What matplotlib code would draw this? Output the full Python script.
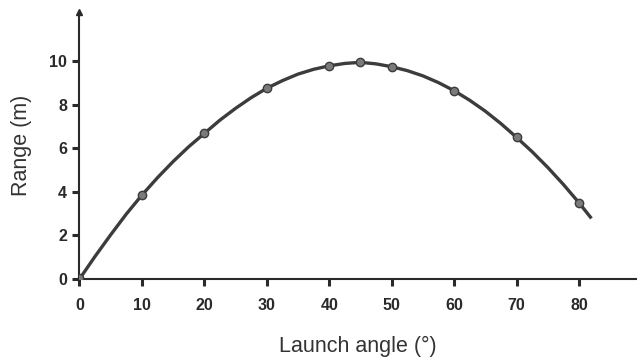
import matplotlib
matplotlib.use('Agg')
import matplotlib.pyplot as plt

# measured points (markers)
angles = [0, 10, 20, 30, 40, 45, 50, 60, 70, 80]
ranges = [0.05, 3.85, 6.68, 8.75, 9.78, 9.94, 9.74, 8.64, 6.5, 3.5]

# curve (every 2.5 degrees)
curve_angles = [0, 2.5, 5, 7.5, 10, 12.5, 15, 17.5, 20, 22.5, 25, 27.5, 30, 32.5, 35,
                37.5, 40, 42.5, 45, 47.5, 50, 52.5, 55, 57.5, 60, 62.5, 65, 67.5,
                70, 72.5, 75, 77.5, 80, 82]
curve_ranges = [0.0, 1.04, 2.03, 2.98, 3.85, 4.65, 5.39, 6.07, 6.68, 7.29, 7.83, 8.32,
                8.75, 9.1, 9.4, 9.62, 9.78, 9.89, 9.94, 9.87, 9.74, 9.56, 9.32, 9.01,
                8.64, 8.2, 7.7, 7.13, 6.5, 5.84, 5.12, 4.34, 3.5, 2.78]

xticks = [0, 10, 20, 30, 40, 50, 60, 70, 80]
yticks = [0, 2, 4, 6, 8, 10]

plt.rcParams['font.family'] = ['Liberation Sans', 'DejaVu Sans']

fig = plt.figure(figsize=(6.37, 3.58), dpi=100)
ax = fig.add_axes([0.1248, 0.2207, 0.8752, 0.7458])

ax.plot(curve_angles, curve_ranges, color='#3c3c3c', lw=2.4, solid_capstyle='butt',
        solid_joinstyle='round', zorder=2)
ax.plot(angles, ranges, 'o', ms=6, mfc='#7a7a7a', mec='#3c3c3c', mew=1.0, zorder=3)

ax.set_xlim(0, 89.3)
ax.set_ylim(0, 12.25)
ax.set_xticks(xticks)
ax.set_yticks(yticks)

for s in ['top', 'right']:
    ax.spines[s].set_visible(False)
for s in ['left', 'bottom']:
    ax.spines[s].set_color('#2a2a2a')
    ax.spines[s].set_linewidth(1.5)

ax.tick_params(axis='both', direction='out', length=5, width=2.2, color='#2a2a2a',
               labelsize=11.5, labelcolor='#2a2a2a')
ax.tick_params(axis='x', pad=9)
ax.tick_params(axis='y', pad=4)
for lbl in ax.get_xticklabels() + ax.get_yticklabels():
    lbl.set_fontweight('bold')

# arrow at the top of the y axis
ax.plot([0], [1], marker='^', ms=5, color='#2a2a2a', transform=ax.transAxes, clip_on=False)

ax.set_xlabel('Launch angle (°)', fontsize=15.5, color='#333333', labelpad=16)
ax.set_ylabel('Range (m)', fontsize=15.5, color='#333333', labelpad=12)

fig.savefig('out.png', dpi=100)
